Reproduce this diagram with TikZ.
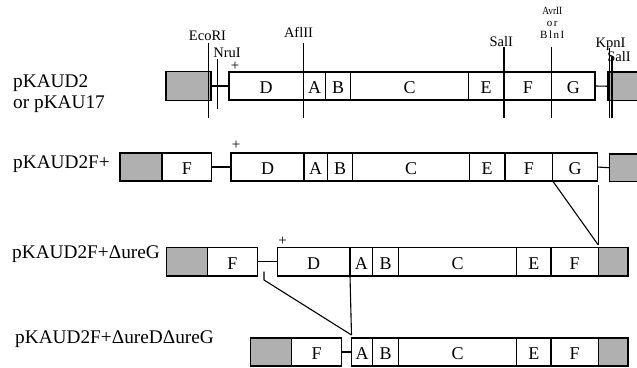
\documentclass[tikz,border=0pt]{standalone}
\usepackage{fontspec}
\setmainfont{Liberation Serif}
\usetikzlibrary{calc}
\tikzset{
  seg/.style={draw, rectangle, line width=1.1pt, inner sep=0pt, outer sep=0pt,
    font=\fontsize{18}{18}\selectfont, text height=15pt, text depth=0pt},
  grayseg/.style={seg, fill=gray!62},
  link/.style={line width=1.1pt},
  site/.style={line width=1.1pt},
  sitelab/.style={font=\fontsize{14.5}{14.5}\selectfont, inner sep=0pt, anchor=base},
  stacklab/.style={font=\fontsize{11}{11.8}\selectfont, inner sep=0pt, align=center, anchor=south},
  rowlab/.style={font=\fontsize{19.3}{19.3}\selectfont, inner sep=0pt, anchor=base west},
  plussign/.style={font=\fontsize{15}{15}\selectfont, inner sep=0pt},
}
\newcommand\segbox[7][seg]{%
  \pgfmathsetmacro\sbw{#4-#3}\pgfmathsetmacro\sbh{#6-#5}%
  \node[#1, minimum width=\sbw pt, minimum height=\sbh pt] (#2) at ({(#3+#4)/2},{(#5+#6)/2}) {#7};}
\begin{document}
\begin{tikzpicture}[x=1pt,y=-1pt]
\useasboundingbox (0,0) rectangle (637,367);

% ---------- row labels ----------
\node[rowlab] (l1a) at (13,87) {pKAUD2};
\node[rowlab] (l1b) at (13,108) {or pKAU17};
\node[rowlab] (l2) at (13,168) {pKAUD2F+};
\node[rowlab] (l3) at (12,258) {pKAUD2F+ΔureG};
\node[rowlab] (l4) at (15,343) {pKAUD2F+ΔureDΔureG};

% ---------- row 1 ----------
\segbox[grayseg]{r1gl}{166}{211}{71.5}{100.5}{}
\segbox{r1D}{229}{303.3}{72}{100}{D}
\segbox{r1A}{303.3}{325.7}{72}{100}{A}
\segbox{r1B}{325.7}{350.7}{72}{100}{B}
\segbox{r1C}{350.7}{468.3}{72}{100}{C}
\segbox{r1E}{468.3}{504}{72}{100}{E}
\segbox{r1F}{504}{551.7}{72}{100}{F}
\segbox{r1G}{551.7}{595}{72}{100}{G}
\segbox[grayseg]{r1gr}{608}{638}{72}{100.5}{}
\draw[link] (r1gl.east) -- (r1D.west);
\draw[link] (r1G.east) -- (r1gr.west);
\node[plussign] (p1) at (235,66.5) {+};

% restriction sites
\node[sitelab] (ecoL) at (207.5,40.7) {EcoRI};
\node[sitelab] (nruL) at (227,57) {NruI};
\node[sitelab] (aflL) at (298.5,37.3) {AflII};
\node[sitelab] (salL) at (501.3,46.7) {SalI};
\node[stacklab] (avrL) at (552.3,38.8) {\scalebox{0.85}[1]{AvrII}\\{\addfontfeature{LetterSpace=14}or}\\{\addfontfeature{LetterSpace=14}BlnI}};
\node[sitelab] (kpnL) at (610.5,47.3) {KpnI};
\node[sitelab] (sal2L) at (619,61.7) {SalI};

\coordinate (ecoT) at (208.3,43);  \coordinate (ecoB) at (208.3,118);
\coordinate (nruT) at (217.7,59);  \coordinate (nruB) at (217.7,109);
\coordinate (aflT) at (303.3,43);  \coordinate (aflB) at (303.3,118);
\coordinate (salT) at (504,47);    \coordinate (salB) at (504,118);
\coordinate (avrT) at (551.7,47);  \coordinate (avrB) at (551.7,118);
\coordinate (kpnT) at (609.5,48);  \coordinate (kpnB) at (609.5,118);
\coordinate (sal2T) at (612,57);   \coordinate (sal2B) at (612,118);
\foreach \s in {eco,nru,afl,sal,avr,kpn,sal2}{\draw[site] (\s T) -- (\s B);}

% ---------- row 2 ----------
\segbox[grayseg]{r2gl}{120}{162}{153}{181}{}
\segbox{r2Fl}{162}{211.7}{153}{181}{F}
\segbox{r2D}{231}{304}{153}{181}{D}
\segbox{r2A}{304}{327.3}{153}{181}{A}
\segbox{r2B}{327.3}{352.7}{153}{181}{B}
\segbox{r2C}{352.7}{469.3}{153}{181}{C}
\segbox{r2E}{469.3}{505}{153}{181}{E}
\segbox{r2F}{505}{552.7}{153}{181}{F}
\segbox{r2G}{552.7}{597.3}{153}{181}{G}
\segbox[grayseg]{r2gr}{609.3}{638}{154}{181.5}{}
\draw[link] (r2Fl.east) -- (r2D.west);
\draw[link] (r2G.east) -- (r2gr.west);
\node[plussign] (p2) at (236,145) {+};

% ---------- row 3 ----------
\segbox[grayseg]{r3gl}{166.7}{207.3}{247.5}{276}{}
\segbox{r3Fl}{207.3}{257.7}{247.5}{276}{F}
\segbox{r3D}{277.3}{350}{247.5}{276}{D}
\segbox{r3A}{350}{372.7}{247.5}{276}{A}
\segbox{r3B}{372.7}{398.3}{247.5}{276}{B}
\segbox{r3C}{398.3}{516.7}{247.5}{276}{C}
\segbox{r3E}{516.7}{551}{247.5}{276}{E}
\segbox{r3F}{551}{598.3}{247.5}{276}{F}
\segbox[grayseg]{r3gr}{598.3}{628}{247.5}{276}{}
\draw[link] (r3Fl.east) -- (r3D.west);
\node[plussign] (p3) at (282.7,241.7) {+};

% ---------- row 4 ----------
\segbox[grayseg]{r4gl}{250.7}{291.7}{338}{366}{}
\segbox{r4Fl}{291.7}{341.7}{338}{366}{F}
\segbox{r4A}{351.7}{372.7}{338}{366}{A}
\segbox{r4B}{372.7}{398.3}{338}{366}{B}
\segbox{r4C}{398.3}{516.7}{338}{366}{C}
\segbox{r4E}{516.7}{551}{338}{366}{E}
\segbox{r4F}{551}{598.3}{338}{366}{F}
\segbox[grayseg]{r4gr}{598.3}{628}{338}{366}{}
\draw[link] (r4Fl.east) -- (r4A.west);

% ---------- deletion markers ----------
\coordinate (j1) at (598.3,245);
\coordinate (v1) at (598.3,185);
\draw[link] (r2G.south west) -- (j1);
\draw[link] (v1) -- (j1);
\coordinate (j2) at (351.5,335);
\coordinate (k1) at (264,271.7);
\coordinate (k2) at (264,280);
\draw[link] (k1) -- (k2) -- (j2);
\draw[link] (r3A.south west) -- (j2);
\end{tikzpicture}
\end{document}
